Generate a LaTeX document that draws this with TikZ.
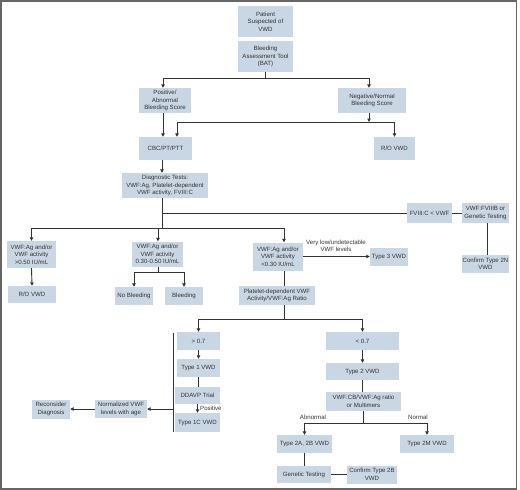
\documentclass[tikz,border=0pt]{standalone}
\usepackage{fontspec}
\setmainfont{Liberation Sans}
\usetikzlibrary{arrows.meta,calc}
\definecolor{boxfill}{HTML}{C9D6E3}
\definecolor{inkc}{HTML}{333333}
\definecolor{framec}{HTML}{666666}
\tikzset{
  bx/.style={fill=boxfill, draw=none, inner sep=0pt, align=center, text=inkc,
    font=\fontsize{6.1}{7.5}\selectfont},
  ln/.style={draw=inkc, line width=0.9pt},
  arr/.style={ln, -{Triangle[length=3.4pt,width=3.4pt]}},
  lbl/.style={text=inkc, font=\fontsize{6.1}{7.5}\selectfont, align=center, inner sep=0pt}
}
\newcommand{\bxat}[5]{\node[bx, minimum width=#3pt, minimum height=#4pt] (#1) at (#2) {#5};}
\begin{document}
\begin{tikzpicture}[x=1pt,y=-1pt]
\useasboundingbox (0,0) rectangle (520,490);
\draw[framec, line width=1.6pt] (0.8,0.8) rectangle (516.5,488.8);

\bxat{pat}{265.5,21.5}{55}{31}{Patient\\Suspected of\\VWD}
\bxat{bat}{265.5,56.5}{55}{31}{Bleeding\\Assessment Tool\\(BAT)}
\bxat{pos}{165,100.5}{52}{25}{Positive/\\Abnormal\\Bleeding Score}
\bxat{neg}{372,100.5}{68}{25}{Negative/Normal\\Bleeding Score}
\bxat{cbc}{165.5,148.5}{53}{23}{CBC/PT/PTT}
\bxat{roa}{394.5,148.5}{41}{23}{R/O VWD}
\bxat{diag}{165,185.5}{86}{25}{Diagnostic Tests:\\VWF:Ag, Platelet-dependent\\VWF activity, FVIII:C}
\bxat{fviii}{429.5,213}{45}{20}{FVIII:C < VWF}
\bxat{fviiib}{485.5,213}{47}{20}{VWF:FVIIIB or\\Genetic Testing}
\bxat{ctwon}{485.5,264}{47}{18}{Confirm Type 2N\\VWD}
\bxat{aone}{31.5,254.5}{49}{27}{VWF:Ag and/or\\VWF activity\\>0.50 IU/mL}
\bxat{rob}{32,294.5}{48}{17}{R/O VWD}
\bxat{atwo}{157.5,254}{51}{25}{VWF:Ag and/or\\VWF activity\\0.30-0.50 IU/mL}
\bxat{nob}{134,296}{38}{18}{No Bleeding}
\bxat{ble}{184,296}{38}{18}{Bleeding}
\bxat{athree}{278,256.5}{50}{28}{VWF:Ag and/or\\VWF activity\\<0.30 IU/mL}
\bxat{tthree}{389,257}{38}{18}{Type 3 VWD}
\bxat{plat}{277,295.5}{76}{19}{Platelet-dependent VWF\\Activity/VWF:Ag Ratio}
\bxat{gt}{198.5,341}{43}{18}{> 0.7}
\bxat{tone}{198.5,368}{43}{18}{Type 1 VWD}
\bxat{ddavp}{197.5,395.5}{45}{17}{DDAVP Trial}
\bxat{tonec}{197.5,422.5}{45}{19}{Type 1C VWD}
\bxat{norm}{121,409}{52}{18}{Normalized VWF\\levels with age}
\bxat{rec}{51,409}{38}{19}{Reconsider\\Diagnosis}
\bxat{lt}{362.5,341}{73}{18}{< 0.7}
\bxat{ttwo}{362.5,371.5}{73}{17}{Type 2 VWD}
\bxat{cb}{363.5,401.5}{75}{19}{VWF:CB/VWF:Ag ratio\\or Multimers}
\bxat{ttwoa}{304.5,444}{55}{18}{Type 2A, 2B VWD}
\bxat{ttwom}{427,444}{54}{18}{Type 2M VWD}
\bxat{gen}{304,474.5}{54}{17}{Genetic Testing}
\bxat{ctwob}{372,474.5}{50}{18}{Confirm Type 2B\\VWD}

% junction coordinates
\coordinate (jA) at (265.5,78);
\coordinate (jB) at (369,122);
\coordinate (jBl) at (177,122);
\coordinate (jC) at (162,228);
\coordinate (jCf) at (162,213);
\coordinate (jD) at (158,272);
\coordinate (jE) at (284,319);
\coordinate (jF) at (363.5,423);
\coordinate (jG) at (173,409);
\coordinate (barT) at (173,333);
\coordinate (barB) at (173,432);

% top part
\draw[ln] (bat.south) -- (jA);
\draw[arr] (jA) -| (pos.north -| 163,0);
\draw[arr] (jA) -| (neg.north -| jB);
\draw[arr] (pos.south -| 163,0) -- (cbc.north -| 163,0);
\draw[arr] (neg.south -| jB) -- (jB);
\draw[arr] (jB) -| (roa.north);
\draw[arr] (jB) -- (jBl) -- (cbc.north -| jBl);
\draw[arr] (cbc.south -| 162,0) -- (diag.north -| 162,0);

% diagnostic branches
\draw[ln] (diag.south -| jC) -- (jC);
\draw[ln] (jCf) -- (fviii.west);
\draw[ln] (fviii.east) -- (fviiib.west);
\draw[ln] (fviiib.south -| 487,0) -- (ctwon.north -| 487,0);
\draw[arr] (jC) -| (aone.north);
\draw[arr] (jC) -| (atwo.north -| 158,0);
\draw[arr] (jC) -| (athree.north -| 284,0);

\draw[arr] (aone.south) -- (rob.north);
\draw[ln] (atwo.south -| jD) -- (jD);
\draw[arr] (jD) -| (nob.north);
\draw[arr] (jD) -| (ble.north);

\draw[arr] (athree.east) -- (athree.east -| tthree.west);
\node[lbl] (vlow) at (336,246) {Very low/undetectable\\VWF levels};
\draw[ln] (athree.south -| 284,0) -- (plat.north -| 284,0);

\draw[ln] (plat.south -| jE) -- (jE);
\draw[arr] (jE) -| (gt.north);
\draw[arr] (jE) -| (lt.north);

% type 1 branch
\draw[arr] (gt.south) -- (tone.north);
\draw[ln] (tone.south) -- (ddavp.north -| tone.south);
\draw[arr] (ddavp.south) -- (tonec.north);
\node[lbl, anchor=west] (posl) at (200,408) {Positive};
\draw[ln] (barT) -- (barB);
\draw[arr] (jG) -- (norm.east);
\draw[arr] (norm.west) -- (rec.east);

% type 2 branch
\draw[arr] (lt.south) -- (ttwo.north);
\draw[ln] (ttwo.south) -- (cb.north -| ttwo.south);
\draw[ln] (cb.south) -- (jF);
\draw[arr] (jF) -| (ttwoa.north);
\draw[arr] (jF) -| (ttwom.north);
\node[lbl] (abn) at (313,417) {Abnormal};
\node[lbl] (nrm) at (418,417) {Normal};
\draw[ln] (ttwoa.south) -- (gen.north -| ttwoa.south);
\draw[ln] (gen.east) -- (ctwob.west);
\end{tikzpicture}
\end{document}
